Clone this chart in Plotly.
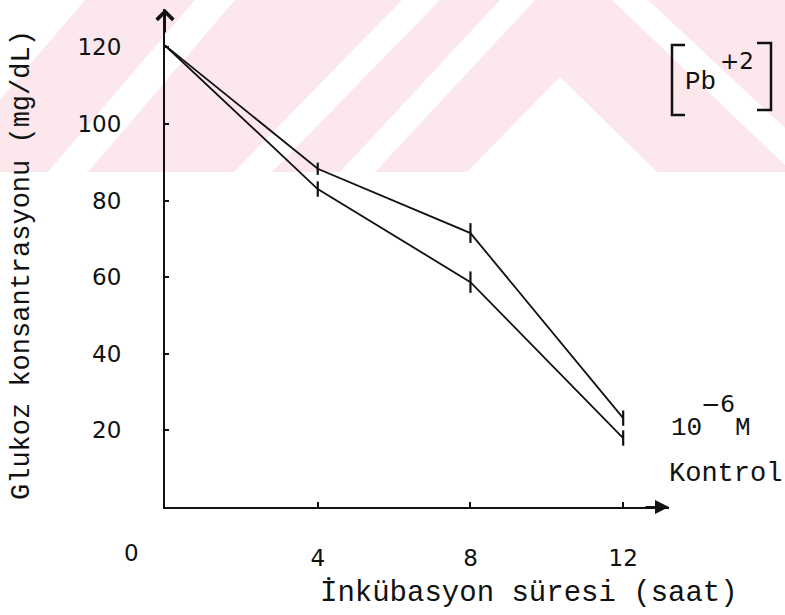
import plotly.graph_objects as go

# ---- data ----
hours = [0, 4, 8, 12]
pb_1e6 = [120.5, 88.3, 71.5, 23.2]
pb_1e6_err = [0, 1.6, 2.6, 2.0]
kontrol = [120.5, 83.0, 58.7, 18.0]
kontrol_err = [0, 2.0, 2.8, 2.0]
x_ticks = [4, 8, 12]
y_ticks = [20, 40, 60, 80, 100, 120]

W, H = 785, 615
ML, MR, MT, MB = 165, 116, 9, 108
PW, PH = W - ML - MR, H - MT - MB


def px(xp):
    return (xp - ML) / PW


def py(yp):
    return (H - MB - yp) / PH


MONO = "Liberation Mono, Courier New, monospace"
SANS = "DejaVu Sans, Arial, sans-serif"
INK = "#111111"
PINK = "#fce8ec"

fig = go.Figure()
for vals, errs, name in [(pb_1e6, pb_1e6_err, "10⁻⁶ M"), (kontrol, kontrol_err, "Kontrol")]:
    fig.add_trace(go.Scatter(
        x=hours, y=vals, mode="lines", name=name,
        line=dict(color=INK, width=1.8),
        error_y=dict(type="data", array=errs, visible=True, color=INK,
                     thickness=2.2, width=0),
        cliponaxis=False, showlegend=False,
    ))

fig.update_layout(
    width=W, height=H,
    margin=dict(l=ML, r=MR, t=MT, b=MB, pad=0),
    plot_bgcolor="rgba(0,0,0,0)", paper_bgcolor="white",
    xaxis=dict(range=[0, 13.2], tickvals=x_ticks, ticks="inside", ticklen=5,
               tickwidth=2, tickcolor=INK, showline=True, linecolor=INK,
               linewidth=2.2, showgrid=False, zeroline=False,
               tickfont=dict(family=SANS, size=23, color=INK),
               ticklabelstandoff=29),
    yaxis=dict(range=[0, 130], tickvals=y_ticks, ticks="inside", ticklen=4,
               tickwidth=2, tickcolor=INK, showline=True, linecolor=INK,
               linewidth=2.2, showgrid=False, zeroline=False,
               tickfont=dict(family=SANS, size=23, color=INK),
               ticklabelstandoff=37),
)

ann = []
# axis arrows
ann.append(dict(x=0, y=130, xref="x", yref="y", ax=0, ay=25, showarrow=True,
                arrowhead=4, arrowsize=1.6, arrowwidth=2, arrowcolor=INK, text=""))
ann.append(dict(x=13.2, y=0, xref="x", yref="y", ax=-25, ay=0, showarrow=True,
                arrowhead=2, arrowsize=1.4, arrowwidth=2, arrowcolor=INK, text=""))
# origin label
ann.append(dict(x=px(131), y=py(553), xref="paper", yref="paper", text="0",
                showarrow=False, font=dict(family=SANS, size=23, color=INK),
                xanchor="center", yanchor="middle"))
# axis titles
ann.append(dict(x=px(22), y=py(265), xref="paper", yref="paper",
                text="Glukoz konsantrasyonu (mg/dL)", textangle=-90,
                showarrow=False, font=dict(family=MONO, size=27, color=INK),
                xanchor="center", yanchor="middle"))
ann.append(dict(x=px(529), y=py(593), xref="paper", yref="paper",
                text="İnkübasyon süresi (saat)",
                showarrow=False, font=dict(family=MONO, size=29, color=INK),
                xanchor="center", yanchor="middle"))
# series labels
ann.append(dict(x=px(669), y=py(428), xref="paper", yref="paper", text="10",
                showarrow=False, font=dict(family=MONO, size=26, color=INK),
                xanchor="left", yanchor="middle"))
ann.append(dict(x=px(699), y=py(404), xref="paper", yref="paper", text="−6",
                showarrow=False, font=dict(family=SANS, size=23, color=INK),
                xanchor="left", yanchor="middle"))
ann.append(dict(x=px(733), y=py(428), xref="paper", yref="paper", text="M",
                showarrow=False, font=dict(family=MONO, size=26, color=INK),
                xanchor="left", yanchor="middle"))
ann.append(dict(x=px(667), y=py(474), xref="paper", yref="paper", text="Kontrol",
                showarrow=False, font=dict(family=MONO, size=27, color=INK),
                xanchor="left", yanchor="middle"))
# [Pb+2]
ann.append(dict(x=px(683), y=py(82), xref="paper", yref="paper", text="Pb",
                showarrow=False, font=dict(family=MONO, size=26, color=INK),
                xanchor="left", yanchor="middle"))
ann.append(dict(x=px(718), y=py(61), xref="paper", yref="paper", text="+2",
                showarrow=False, font=dict(family=SANS, size=23, color=INK),
                xanchor="left", yanchor="middle"))
fig.update_layout(annotations=ann)


def poly(points, color):
    d = "M " + " L ".join(f"{px(a)},{py(b)}" for a, b in points) + " Z"
    return dict(type="path", xref="paper", yref="paper", path=d,
                fillcolor=color, line=dict(width=0), layer="below")


# faint background watermark of the scanned page (top band)
watermark = [
    poly([(0, 0), (785, 0), (785, 172), (0, 172)], PINK),
    poly([(0, 0), (85, 0), (0, 100)], "white"),
    poly([(195, 0), (235, 0), (88, 172), (48, 172)], "white"),
    poly([(402, 0), (440, 0), (272, 172), (234, 172)], "white"),
    poly([(500, 0), (535, 0), (375, 172), (340, 172)], "white"),
    poly([(560, 77), (657, 172), (467, 172)], "white"),
    poly([(612, 0), (648, 0), (785, 128), (785, 165)], "white"),
]


# brackets
def bracket(x_line, x_serif, y0, y1):
    return dict(type="path", xref="paper", yref="paper",
                path=f"M {px(x_serif)},{py(y0)} L {px(x_line)},{py(y0)} L {px(x_line)},{py(y1)} L {px(x_serif)},{py(y1)}",
                line=dict(color=INK, width=2.5))


fig.update_layout(shapes=watermark + [bracket(672, 685, 45, 115), bracket(771, 757, 43, 110)])

fig.write_html("out.html")
